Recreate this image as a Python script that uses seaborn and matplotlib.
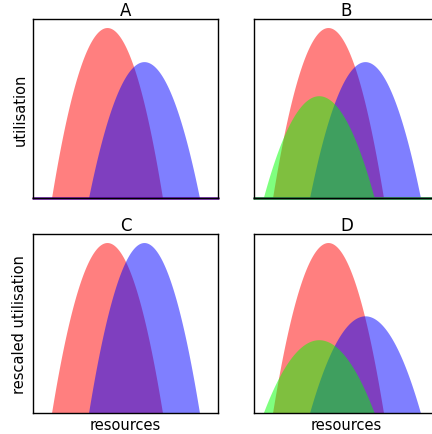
import numpy as np
import pandas as pd
import matplotlib
matplotlib.use("Agg")
import matplotlib.pyplot as plt
import seaborn as sns

# panel data: peak position, peak height, half width of each niche curve
panels = ["A", "B", "C", "D"]
colours = ["red", "blue", "lime"]
centres = {"A": [0.40, 0.60], "B": [0.40, 0.60, 0.35],
           "C": [0.40, 0.60], "D": [0.40, 0.60, 0.35]}
heights = {"A": [1.0, 0.80], "B": [1.0, 0.80, 0.60],
           "C": [1.0, 1.0], "D": [1.0, 0.57, 0.43]}
half_width = 0.30

sns.set_theme(style="white")
plt.rcParams["font.family"] = ["DejaVu Sans"]
plt.rcParams["text.color"] = "black"
plt.rcParams["axes.labelcolor"] = "black"

fig = plt.figure(figsize=(4.32, 4.35), dpi=100)
pos = {"A": [33/432, 1-199/435, 185/432, 179/435],
       "B": [254/432, 1-199/435, 185/432, 179/435],
       "C": [33/432, 1-414/435, 185/432, 179/435],
       "D": [254/432, 1-414/435, 185/432, 179/435]}

x = np.linspace(0, 1, 500)
for p in panels:
    ax = fig.add_axes(pos[p])
    rows = []
    for i, (c, h) in enumerate(zip(centres[p], heights[p])):
        y = np.clip(h * (1 - ((x - c) / half_width) ** 2), 0, None)
        rows.append(pd.DataFrame({"x": x, "y": y, "sp": i}))
    df = pd.concat(rows)
    sns.lineplot(data=df, x="x", y="y", hue="sp", palette=colours[:len(centres[p])],
                 lw=0, legend=False, ax=ax)
    for i, g in df.groupby("sp"):
        ax.fill_between(g["x"], 0, g["y"], color=colours[i], alpha=0.5, lw=0)
        if p in ("A", "B"):
            # zero-height part of the fill shows as a line on the baseline
            ax.plot([0, 1], [0, 0], color=colours[i], alpha=0.5, lw=2,
                    zorder=2, clip_on=False)
    ax.set_xlim(0, 1)
    ax.set_ylim(0, 1.05)
    ax.set_xticks([])
    ax.set_yticks([])
    ax.set_title(p, fontsize=12, pad=3)
    ax.set_xlabel("")
    ax.set_ylabel("")
    for s in ax.spines.values():
        s.set_color("black")
        s.set_linewidth(1)
    if p == "A":
        ax.set_ylabel("utilisation", fontsize=10.5)
    if p == "C":
        ax.set_ylabel("rescaled utilisation", fontsize=10.5)
    if p in ("C", "D"):
        ax.set_xlabel("resources", fontsize=10.5, labelpad=3)

fig.savefig("out.png", dpi=100)
